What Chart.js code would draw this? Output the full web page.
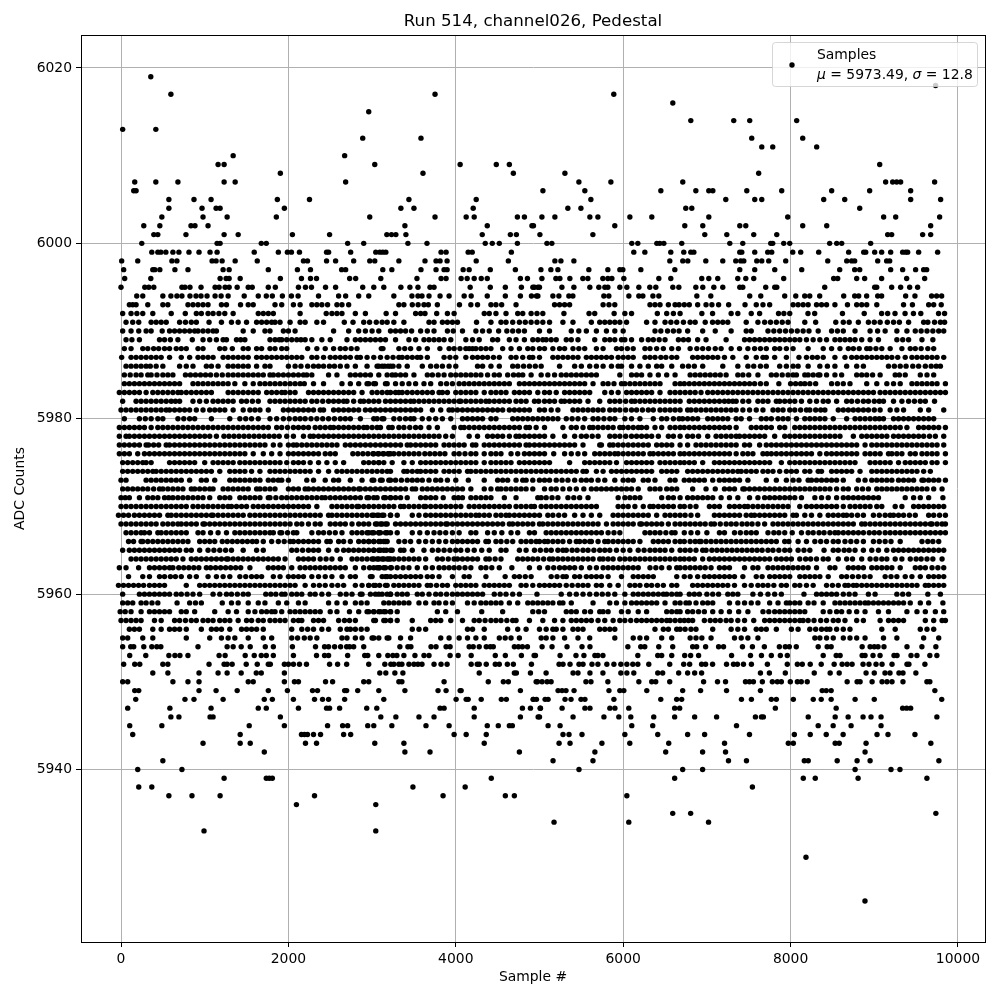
<!DOCTYPE html>
<html>
<head>
<meta charset="utf-8">
<title>Run 514, channel026, Pedestal</title>
<script src="https://cdn.jsdelivr.net/npm/chart.js@4/dist/chart.umd.min.js"></script>
<style>
  html, body { margin: 0; padding: 0; background: #fff; }
  canvas { display: block; }
</style>
</head>
<body>
<canvas id="chart" width="1000" height="1000"></canvas>
<script>
const chartTitle = 'Run 514, channel026, Pedestal';
const xLabel = 'Sample #';
const yLabel = 'ADC Counts';
const seriesName = 'Samples';
const xTicks = [0, 2000, 4000, 6000, 8000, 10000];
const yTicks = [5940, 5960, 5980, 6000, 6020];
const mu = '5973.49';
const sigma = '12.8';

// ADC counts are integers, so the samples are listed one row per count
const upperLevels = [6019,6018,6017,6016,6015,6014,6013,6012,6011,6010,6009,6008,6007,6006,6005,6004,6003,6002,6001,6000,5999,5998,5997,5996,5995,5994];
const upperRows = [
[356],
[9733],
[596,3752,5888],
[6593],
[2960],
[6808,7321,7512,8073],
[20,416],
[2888,3584,7536,8145],
[7656,7787,8312],
[1340,2672],
[1160,1232,3032,4052,4484,4640,9065],
[1904,3608,4688,5304,7619],
[164,416,680,1232,1364,2684,5471,5853,6712,9136,9220,9268,9315,9721],
[152,180,5041,5542,6450,6868,7023,7071,7477,7894,8491,8945,9435],
[572,872,1076,1868,2252,3440,4244,5614,7226,7572,7656,8396,8647,9435,9793],
[572,968,1136,1184,1952,3344,3500,4208,5339,5495,6748,6820,8826],
[488,980,1268,1856,2972,3752,4124,4220,4736,4820,5029,5184,5602,5698,6080,6342,7023,7966,9112,9256,9781],
[272,464,836,884,1040,3392,4376,4910,4928,5900,6736,6951,7393,7465,8145,8432,9674],
[392,440,776,1232,1400,2048,2492,3176,3232,3284,3404,4316,4652,4724,5005,5638,6975,7238,7560,7835,9160,9208,9578,9674],
[248,1148,1184,1676,1736,2708,2900,3428,3656,4352,4436,4520,4736,5089,5148,6103,6175,6402,6438,6486,6700,7274,7429,7763,7787,7918,7990,8467,8551,8611,8957],
[368,440,476,536,620,692,812,932,1064,1148,1592,1880,1988,2036,2132,2456,2480,2744,3044,3092,3128,3164,3824,3884,4148,4196,4664,6127,6259,6569,6724,6808,6844,7393,7417,7572,7727,7775,8026,8121,8336,8694,8874,8898,9005,9088,9196,9339,9375,9399,9530,9757],
[8,200,608,668,1088,1136,1208,1364,1628,2180,2228,2456,2564,2780,2972,3032,3320,3632,3764,3812,3896,4244,4628,5184,5256,5411,6557,6712,6772,6987,7190,7345,7405,7441,7596,7656,7739,7942,8444,8671,8730,8766,9041,9148,9184],
[32,380,404,464,644,800,1220,1292,1760,2108,2264,2636,2684,3128,3236,3584,3764,3860,3896,4088,4160,4412,4712,5017,5136,5220,5590,5817,5960,5996,6211,6617,7393,7572,7811,8133,8587,8766,8826,9196,9339,9494,9590,9626],
[44,356,1184,1256,1292,1424,1904,2156,2264,2336,2732,2804,3104,3536,3824,3884,4064,4136,4220,4304,4376,4772,4856,5029,5196,5244,5363,5518,5578,5757,5817,5865,6008,6426,6569,6939,7023,7130,7369,7465,7560,7918,8515,8563,8790,8885,9088,9387,9602],
[0,284,332,392,728,764,824,956,1124,1172,1244,1292,1388,1520,1568,1760,1844,2120,2204,2276,2444,2564,2888,3020,3140,3344,3452,3548,3692,3740,4172,4412,4592,4784,4921,4940,4981,5000,5268,5411,5602,5709,5781,5817,5960,6044,6187,6318,6390,6593,6665,6868,6951,7083,7190,7393,7429,7703,7811,7835,8408,9005,9029,9208,9315,9423,9518],
[188,260,500,596,668,728,824,896,956,1028,1124,1196,1280,1472,1640,1736,1808,1928,2036,2116,2360,2600,2684,2840,2960,3260,3476,3548,3596,3680,3812,3920,4100,4184,4376,4592,4772,4904,4964,4981,5160,5232,5351,5399,5769,5829,6068,6187,6235,6355,6426,6880,7047,7512,7644,7930,8062,8169,8229,8348,8635,8766,8814,8909,9041,9088,9375,9486,9685,9745,9805]
];

const coreLevels = [5993,5992,5991,5990,5989,5988,5987,5986,5985,5984,5983,5982,5981,5980,5979,5978,5977,5976,5975,5974,5973,5972,5971,5970,5969,5968,5967,5966,5965,5964,5963,5962,5961,5960,5959,5958,5957,5956,5955];
const coreRows = [
/*5993*/ [100,140,180,320,500,560,800,860,920,980,1040,1200,1260,1428,1520,1580,1840,1920,2060,2140,2280,2340,2400,2468,2580,2640,2720,3320,3380,3480,3550,3620,3672,3780,4044,4180,4260,4420,4480,4548,4720,5180,5240,5300,5360,5760,5830,5900,6320,6380,6440,6540,6620,6668,6730,6790,6890,6990,7060,7140,7260,7456,7590,7670,7750,8030,8090,8150,8210,8310,8370,8430,8530,8680,8790,8850,8910,9030,9350,9456,9650,9710,9800],
/*5992*/ [20,120,190,260,380,600,768,900,960,1040,1100,1170,1240,1340,1640,1700,1760,1820,2140,2452,2520,2580,2640,2800,2920,3168,3280,3520,3580,3632,3772,3900,3980,4340,4400,4480,4600,4740,4800,4900,4970,5040,5292,5592,5660,5892,6020,6100,6408,6520,6600,6680,6940,7068,7290,7370,7530,7630,7856,7920,7990,8208,8288,8620,8880,9088,9160,9248,9368,9468,9556,9768,9840],
/*5991*/ [60,140,212,360,420,480,540,700,770,840,900,1052,1200,1320,1400,1500,1620,1680,1740,1800,1840,1900,2020,2140,2200,2340,2420,2668,2772,2900,2970,3050,3120,3180,3260,3380,3680,3740,3840,3900,3960,4020,4248,4420,4540,4600,4680,4760,4830,4900,4970,5040,5120,5280,5400,5620,5720,5780,5840,5900,5960,6040,6280,6380,6500,6570,6640,6720,6800,6860,6980,7068,7130,7190,7250,7470,7610,7690,7760,7830,7900,7970,8170,8300,8540,8630,8700,8810,8930,9000,9070,9156,9230,9300,9410,9590,9640,9720,9790,9840],
/*5990*/ [20,120,212,300,360,492,580,640,700,760,820,880,920,980,1040,1100,1140,1460,1580,1720,1780,1940,2000,2080,2540,2720,2840,2920,3000,3080,3220,3280,3340,3400,3472,3580,3660,3740,3900,3970,4080,4240,4320,4400,4512,4610,4680,4750,4820,5000,5120,5380,5470,5560,5680,5800,5900,6000,6380,6450,6530,6600,6668,6770,6950,7100,7290,7470,7530,7730,7800,7870,7940,8010,8080,8150,8220,8330,8490,8560,8630,8770,8950,9040,9130,9270,9390,9490,9560,9630,9700,9770,9830],
/*5989*/ [60,130,220,460,520,590,680,852,980,1060,1140,1220,1260,1380,1430,1480,1780,1840,1890,1920,1980,2040,2100,2150,2200,2280,2400,2500,2700,2800,2860,2920,2980,3040,3100,3160,3280,3440,3520,3620,3680,3740,3800,3860,3940,4120,4200,4280,4440,4500,4640,4720,4820,4920,4980,5040,5080,5140,5200,5320,5380,5460,5660,5780,5840,5900,5980,6020,6100,6220,6300,6360,6430,6500,6660,6720,6780,6890,6990,7230,7450,7510,7570,7630,7690,7750,7810,7870,7930,7990,8050,8110,8190,8270,8350,8430,8530,8590,8650,8710,8770,8850,8950,9050,9270,9340,9410,9570,9700],
/*5988*/ [40,120,260,320,390,450,520,580,660,720,780,920,980,1180,1240,1330,1460,1520,1620,1680,1780,1840,1920,1980,2230,2340,2440,2540,2620,2680,2750,2820,3110,3130,3320,3390,3460,3560,3660,3810,3920,3980,4050,4120,4160,4200,4240,4300,4360,4420,4560,4660,4760,4860,4920,5000,5060,5160,5240,5300,5400,5470,5540,5680,5760,5920,5980,6050,6120,6260,6320,6400,6480,6580,6660,6800,6880,6950,7020,7100,7170,7290,7390,7490,7570,7640,7710,7810,7870,7950,8030,8210,8390,8490,8590,8690,8750,8820,8910,8950,9020,9090,9190,9330,9430,9490,9560,9640,9710],
/*5987*/ [8,120,180,240,300,360,420,480,580,720,820,920,980,1040,1100,1220,1280,1340,1400,1460,1520,1620,1680,1740,1800,1860,1920,1980,2040,2100,2160,2280,2340,2420,2500,2560,2620,2680,2740,2820,2860,2940,3020,3100,3180,3250,3320,3360,3420,3480,3540,3580,3660,3860,3930,4000,4120,4200,4260,4320,4380,4450,4520,4660,4720,4800,4880,4920,5000,5160,5220,5280,5340,5400,5460,5560,5620,5680,5740,5800,5860,5940,6000,6060,6120,6260,6320,6380,6450,6510,6580,6640,6830,6890,6950,7010,7070,7130,7210,7310,7470,7590,7670,7710,7810,7950,8100,8190,8260,8320,8390,8530,8650,8730,8790,8850,8910,8970,9030,9090,9150,9210,9280,9370,9450,9510,9570,9630,9690,9750,9830],
/*5986*/ [60,120,180,240,300,350,420,500,700,780,860,1020,1080,1160,1280,1340,1400,1460,1520,1620,1720,1780,2000,2080,2150,2230,2300,2360,2420,2490,2550,2620,2700,2800,2940,3080,3150,3220,3060,3120,3190,3250,3320,3420,3600,3700,3770,3840,3920,4000,4260,4320,4420,4520,4680,4740,4810,4880,4950,5020,5240,5420,5500,5600,5680,5760,5860,5940,5980,6100,6200,6300,6400,6460,6580,6710,6780,6850,6950,7190,7370,7490,7560,7640,7710,7870,7950,8030,8090,8210,8350,8440,8530,8670,8790,8870,9170,9240,9310,9380,9460,9530,9610,9680,9740,9790],
/*5985*/ [40,110,180,240,320,360,430,500,560,620,770,830,890,950,1010,1070,1140,1210,1280,1340,1400,1460,1520,1580,1640,1700,1780,1820,1880,1940,2000,2060,2120,2180,2220,2280,2480,2580,2740,2800,2860,2920,2980,3080,3180,3240,3280,3340,3400,3500,3660,3720,3790,3860,3940,4000,4060,4120,4180,4240,4300,4380,4460,4520,4620,4690,4750,4800,4900,5020,5100,5180,5260,5320,5380,5440,5500,5560,5620,5680,5960,6100,6160,6220,6320,6420,6520,6620,6800,6860,6920,6980,7040,7100,7160,7230,7370,7430,7500,7610,7770,7830,7900,7970,8030,8070,8170,8210,8270,8330,8350,8430,8530,8610,8790,8850,8910,8980,9070,9250,9300,9370,9550,9630,9710],
/*5984*/ [40,100,160,220,280,340,400,460,520,580,640,700,860,920,980,1040,1100,1160,1220,1280,1360,1480,1580,1660,1720,1780,1840,1900,1960,2020,2080,2140,2190,2300,2420,2640,2740,2840,2940,3040,3180,2960,3020,3160,3280,3360,3440,3520,3620,3700,3820,3890,3960,4040,4100,4160,4220,4280,4340,4400,4460,4520,4580,4640,4760,4820,4880,4940,5000,5060,5120,5180,5240,5300,5360,5420,5480,5540,5640,5760,5820,5890,5980,6020,6080,6140,6200,6260,6320,6380,6440,6620,6680,6730,6790,6850,6910,6970,7030,7090,7150,7210,7270,7330,7390,7450,7510,7570,7640,7710,7860,8000,8060,8120,8170,8230,8300,8490,8560,8630,8710,8910,9030,9150,9230,9310,9450,9510,9570,9630,9690,9750,9850],
/*5983*/ [-20,40,100,160,220,300,380,440,500,560,620,680,720,780,840,900,960,1020,1080,1280,1340,1400,1460,1520,1580,1640,1740,1800,1860,1920,1960,2020,2080,2240,2300,2360,2420,2480,2540,2600,2660,2720,2780,2880,3000,3060,3120,3180,3220,3280,3320,3360,3420,3480,3540,3600,3660,3720,3800,3840,3900,4000,4060,4120,4180,4240,4340,4420,4480,4540,4600,4700,4760,4820,4880,4980,5060,5120,5200,5300,5360,5420,5480,5540,5600,5780,5860,5940,6040,6100,6160,6220,6280,6340,6440,6560,6620,6680,6740,6800,6860,6930,7010,7070,7130,7190,7250,7310,7370,7430,7490,7550,7610,7670,7730,7790,7850,7910,7970,8030,8090,8150,8210,8270,8330,8390,8450,8510,8570,8630,8690,8750,8810,8870,8930,8990,9070,9130,9190,9250,9310,9370,9430,9490,9550,9610,9670,9730,9790,9850],
/*5982*/ [20,180,240,300,360,420,480,540,600,650,700,860,940,1020,1100,1160,1220,1280,1340,1440,1500,1570,1640,1780,1840,1900,1960,2020,2080,2140,2200,2280,2340,2410,2480,2540,2600,2660,2700,2780,2860,2900,2960,3020,3080,3160,3220,3280,3340,3400,3460,3500,3560,3620,3680,3740,3800,3860,3920,3980,4040,4060,4120,4180,4240,4300,4360,4400,4460,4520,4580,4640,4720,4780,4840,4940,4990,5060,5120,5180,5260,5300,5360,5420,5480,5580,5720,5840,5900,5960,6030,6100,6140,6200,6260,6320,6380,6440,6500,6560,6620,6680,6790,6850,6910,6970,7030,7090,7150,7210,7260,7310,7350,7430,7500,7610,7670,7730,7830,7870,7930,7990,8050,8130,8230,8310,8390,8450,8550,8670,8730,8800,8870,8930,9000,9060,9110,9230,9330,9410,9480,9550,9610,9720],
/*5981*/ [0,60,120,180,240,300,360,420,480,540,580,640,700,760,820,900,980,1060,1120,1180,1240,1340,1460,1540,1600,1660,1760,1940,2000,2060,2120,2180,2240,2300,2380,2420,2540,2600,2660,2720,2780,2840,2920,2980,3040,3100,3160,3220,3280,3340,3400,3460,3520,3580,3720,3820,3920,3960,4020,4080,4140,4200,4260,4320,4380,4440,4500,4560,4640,4700,4760,4820,4880,5000,5060,5140,5220,5400,5460,5520,5580,5640,5700,5760,5840,5900,5960,6030,6100,6160,6230,6300,6360,6440,6500,6560,6620,6680,6770,6810,6870,6930,6990,7050,7110,7170,7230,7290,7350,7430,7510,7590,7670,7790,7850,7910,7990,8050,8120,8190,8230,8300,8360,8410,8570,8630,8690,8750,8810,8870,8930,9000,9070,9190,9270,9350,9550,9650,9830],
/*5980*/ [40,220,290,360,440,500,680,750,820,880,1080,1300,1420,1490,1560,1640,1780,1860,1940,2010,2080,2140,2200,2270,2340,2410,2480,2550,2620,2680,2740,2860,3060,3140,3020,3120,3260,3330,3400,3460,3500,3600,3680,3760,3840,3940,4080,4140,4200,4260,4320,4420,4480,4680,4740,4800,4860,4920,4980,5040,5100,5160,5220,5320,5390,5460,5540,5640,5700,5770,5840,5900,6020,6100,6200,6360,6460,6520,6600,6668,6710,6770,6830,6890,7010,7070,7130,7190,7250,7350,7410,7510,7650,7710,7770,7850,7910,7970,8070,8170,8230,8290,8350,8410,8510,8670,8770,8830,8890,8950,9010,9060,9110,9230,9290,9350,9410,9470,9530,9590,9650,9710],
/*5979*/ [-20,40,100,160,220,280,360,440,500,560,620,680,740,800,860,920,980,1040,1100,1160,1220,1280,1340,1400,1460,1520,1580,1640,1700,1760,1860,1920,1990,2060,2120,2180,2240,2320,2380,2440,2500,2540,2600,2660,2720,2780,2840,2900,2940,3000,3060,3100,3200,3240,3320,3380,3450,3520,3580,3680,3780,3980,4060,4100,4160,4220,4280,4340,4400,4460,4520,4580,4640,4700,4760,4840,4880,4960,5060,5280,5380,5440,5520,5600,5640,5700,5760,5820,5880,5960,6000,6060,6120,6180,6220,6280,6380,6460,6560,6620,6680,6730,6790,6850,6910,6970,7030,7090,7150,7210,7270,7350,7530,7590,7650,7710,7770,7870,7930,8050,8110,8170,8230,8290,8350,8410,8470,8530,8590,8650,8710,8770,8830,8890,8950,9010,9070,9130,9190,9250,9310,9390,9530,9590,9650,9710,9770,9850],
/*5978*/ [-20,60,100,160,220,280,340,400,460,520,580,640,700,760,820,880,940,1000,1060,1140,1230,1290,1350,1410,1470,1530,1590,1650,1710,1770,1830,1890,1980,2060,2180,2260,2300,2360,2420,2480,2540,2600,2660,2720,2780,2840,2900,2960,3020,3080,3140,3200,3260,3320,3380,3440,3500,3560,3620,3680,3740,3800,3880,3960,4160,4260,4380,4440,4500,4560,4640,4720,4760,4820,4880,4940,5000,5060,5160,5300,5420,5500,5560,5630,5700,5840,5900,5960,6030,6100,6160,6220,6280,6340,6420,6540,6600,6680,6770,6830,6900,7010,7110,7170,7230,7290,7350,7390,7450,7510,7570,7630,7690,7810,7930,7990,8050,8110,8170,8230,8290,8350,8410,8470,8530,8590,8750,8850,8910,8970,9030,9090,9150,9230,9290,9350,9410,9470,9530,9590,9660,9730,9830],
/*5977*/ [-20,40,100,160,220,300,330,390,450,540,580,640,700,760,820,880,940,1000,1060,1120,1180,1240,1300,1360,1420,1480,1540,1600,1660,1720,1820,1900,2000,2060,2100,2160,2220,2280,2340,2400,2460,2520,2580,2680,2740,2800,2860,2920,2980,3040,3100,3160,3220,3280,3340,3420,3460,3520,3580,3640,3700,3760,3860,3920,3980,4040,4100,4200,4240,4340,4400,4460,4520,4580,4640,4700,4760,4840,4880,4940,5000,5060,5120,5180,5240,5300,5360,5420,5520,5720,5740,5840,5880,5940,6000,6060,6120,6180,6240,6300,6400,6460,6520,6580,6680,6770,6870,6930,6990,7050,7110,7170,7230,7290,7350,7450,7510,7630,7710,7770,7830,7890,7950,8010,8070,8130,8190,8250,8310,8370,8430,8490,8550,8610,8670,8730,8790,8890,8970,9030,9090,9150,9210,9270,9330,9390,9450,9510,9570,9630,9690,9750,9830],
/*5976*/ [-20,40,100,200,280,340,400,460,520,580,640,700,760,820,880,940,1000,1060,1120,1180,1240,1300,1360,1420,1480,1580,1700,1800,1900,2000,2060,2120,2180,2240,2300,2360,2440,2500,2560,2770,2830,2890,2950,3010,3070,3130,3190,3220,3020,3080,3140,3200,3260,3320,3380,3440,3500,3560,3630,3690,3750,3810,3870,3980,4040,4110,4180,4240,4340,4420,4480,4540,4660,4740,4820,4880,4940,5000,5060,5170,5300,5380,5460,5540,5660,5720,5780,5840,5900,5940,6000,6060,6120,6180,6240,6320,6360,6420,6480,6540,6600,6680,6730,6790,6850,6910,6970,7030,7090,7150,7210,7270,7350,7430,7490,7550,7670,7720,7770,7830,7890,7950,8010,8070,8130,8190,8250,8350,8430,8490,8550,8610,8670,8730,8790,8890,8950,9010,9070,9170,9210,9270,9330,9430,9490,9570,9630,9690,9750,9850],
/*5975*/ [20,80,140,200,260,300,360,580,640,700,760,820,880,1000,1100,1160,1220,1280,1340,1420,1480,1540,1600,1660,1720,1780,1840,1900,1980,2060,2120,2180,2260,2360,2460,2560,2660,2900,2960,3020,3080,3140,3240,3080,3380,3480,3580,3640,3700,3760,3820,3880,3940,4000,4060,4120,4180,4240,4340,4420,4480,4540,4600,4660,4760,4820,4880,4940,5000,5060,5120,5360,5540,5600,5660,5720,5780,5840,5920,6040,6100,6160,6220,6280,6340,6440,6500,6560,6620,6680,6730,6790,6850,6950,7090,7150,7210,7270,7330,7390,7450,7510,7570,7630,7690,7750,7890,7990,8050,8110,8170,8230,8290,8350,8410,8470,8530,8590,8650,8710,8770,8950,9010,9070,9130,9190,9290,9370,9430,9490,9550,9610,9690,9750,9850],
/*5974*/ [20,80,140,200,260,320,380,420,480,540,600,660,720,780,840,900,960,1020,1080,1180,1300,1360,1420,1480,1560,1660,1780,1840,1900,1960,2020,2080,2140,2200,2260,2360,2480,2580,2640,2700,2760,2820,2880,2940,3000,3060,3120,3180,3220,3420,3380,3480,3540,3580,3640,3700,3760,3860,3920,3980,4040,4140,4180,4240,4300,4360,4420,4480,4540,4600,4660,4720,4780,4840,4900,4960,5020,5080,5140,5200,5260,5320,5380,5440,5520,5560,5680,5760,5860,5920,5980,6040,6100,6160,6220,6280,6340,6460,6520,6580,6640,6770,6830,6890,6950,7010,7070,7130,7190,7250,7310,7370,7410,7470,7530,7590,7670,7730,7790,7870,7950,8010,8070,8170,8230,8330,8370,8490,8550,8610,8670,8730,8830,8970,9030,9090,9150,9210,9270,9330,9390,9450,9510,9590,9670],
/*5973*/ [0,60,300,360,420,480,540,600,660,720,820,960,1020,1120,1300,1360,1420,1480,1540,1600,1660,1760,1820,1880,1920,2000,2220,2300,2440,2540,2600,2740,2880,3000,3120,3220,3020,3100,3200,3280,3350,3420,3480,3540,3600,3680,3760,3820,3900,4000,4150,4340,4500,4560,4620,4720,4800,4840,4920,5000,5060,5120,5200,5270,5340,5420,5500,5560,5620,5700,5780,5900,6000,6060,6120,6240,6300,6380,6560,6620,6730,6790,6850,6910,6970,7070,7150,7210,7270,7330,7390,7490,7710,7830,7950,8030,8100,8210,8250,8310,8370,8430,8490,8550,8630,8810,8890,8970,9030,9090,9150,9210,9290,9350,9410,9470,9570,9590,9650,9710,9770,9850],
/*5972*/ [20,80,140,200,260,320,390,460,500,560,620,680,740,840,880,940,1000,1060,1100,1220,1280,1340,1400,1460,1520,1620,1660,1720,1780,1840,2000,2060,2120,2200,2240,2300,2360,2420,2480,2540,2600,2660,2720,2780,2840,2860,2920,2980,3040,3100,3160,3220,3280,3340,3400,3480,3520,3600,3660,3720,3780,3840,3900,3960,4020,4080,4180,4340,4420,4500,4540,4600,4660,4720,4780,4840,4920,5060,5140,5200,5280,5360,5440,5530,5620,5680,5740,5800,5860,5920,5980,6040,6100,6180,6320,6380,6440,6520,6580,6640,6830,6990,7100,7210,7270,7330,7430,7450,7510,7570,7630,7690,7750,7810,7870,7930,7990,8050,8110,8170,8230,8290,8350,8410,8470,8550,8630,8690,8790,8860,8930,9030,9090,9150,9210,9270,9330,9390,9450,9510,9570,9630,9710,9810],
/*5971*/ [0,50,100,220,320,380,440,520,570,620,680,740,800,860,920,980,1060,1180,1240,1300,1420,1480,1540,1600,1660,1760,1780,1850,1920,1980,2040,2100,2160,2220,2280,2340,2400,2440,2500,2560,2620,2680,2740,2800,2860,2940,3060,3160,3220,2960,3020,3140,3220,3280,3340,3420,3580,3640,3700,3760,3850,3980,4030,4080,4180,4240,4300,4360,4420,4580,4720,4980,5020,5080,5150,5220,5340,5410,5480,5580,5940,6020,6080,6140,6200,6460,6540,6600,6680,6770,6830,6890,6950,7010,7070,7170,7270,7370,7510,7610,7690,7750,7810,7870,7930,7990,8050,8130,8290,8370,8450,8550,8630,8690,8750,8810,8870,8930,8990,9050,9370,9470,9550,9650,9820],
/*5970*/ [0,60,120,180,240,300,360,420,480,540,600,660,720,780,860,920,980,1040,1100,1160,1220,1280,1320,1380,1440,1500,1580,1640,1700,1760,1820,1880,1940,2000,2060,2120,2180,2240,2340,2520,2580,2640,2700,2760,2820,2840,2900,2960,3020,3080,3140,3200,3260,3340,3380,3440,3500,3560,3620,3640,3700,3760,3820,3880,3940,4000,4060,4160,4220,4280,4340,4400,4460,4520,4580,4640,4720,4780,4840,4900,4940,5020,5080,5140,5200,5260,5320,5380,5440,5500,5560,5620,5680,5940,6000,6060,6140,6240,6320,6360,6420,6480,6540,6600,6680,6730,6800,6870,7030,7090,7150,7270,7330,7390,7450,7490,7550,7610,7670,7730,7790,7850,7910,7970,8110,8190,8250,8310,8370,8430,8490,8550,8630,8710,8770,8830,8890,8950,9030,9090,9250,9330,9470,9530,9590,9650,9710,9770,9830],
/*5969*/ [-30,30,90,160,220,280,340,400,460,560,600,660,720,780,840,900,960,1020,1080,1100,1160,1220,1280,1340,1400,1460,1540,1600,1660,1720,1780,1840,1900,1960,2020,2080,2140,2200,2260,2320,2380,2480,2520,2580,2640,2700,2760,2820,2880,2940,3000,3060,3120,3220,3020,3080,3140,3220,3300,3480,3560,3640,3700,3760,3820,3880,3940,4000,4060,4120,4180,4240,4280,4340,4400,4480,4540,4600,4640,4700,4760,4820,4880,4940,5000,5100,5160,5230,5300,5420,5520,5620,5720,5880,5940,6000,6060,6120,6180,6240,6300,6400,6500,6560,6620,6680,6740,6810,6890,7090,7150,7210,7270,7330,7390,7470,7530,7570,7630,7690,7750,7810,7870,7930,8030,8070,8170,8250,8350,8450,8510,8570,8630,8670,8730,8800,8870,8990,9060,9130,9190,9230,9290,9350,9420,9490,9650,9710,9780,9850],
/*5968*/ [0,60,120,180,240,300,360,420,500,560,620,680,720,780,840,900,980,1000,1060,1120,1180,1240,1300,1360,1420,1480,1540,1600,1660,1720,1780,1840,1900,1960,2020,2100,2160,2240,2320,2380,2500,2560,2620,2680,2760,2840,2900,2960,3060,3120,3180,3040,3100,3160,3280,3340,3400,3460,3520,3580,3640,3700,3760,3820,3880,3900,3960,4020,4080,4140,4200,4260,4320,4380,4440,4500,4560,4640,4680,4740,4800,4860,4920,5000,5040,5100,5160,5220,5280,5340,5400,5460,5520,5580,5640,5700,5800,5880,5940,6000,6060,6120,6200,6220,6280,6340,6400,6460,6540,6620,6680,6740,6800,6860,6920,6980,7050,7090,7160,7230,7290,7350,7420,7480,7540,7610,7690,7790,7850,7910,7970,8030,8090,8150,8210,8270,8330,8390,8450,8510,8570,8630,8690,8750,8850,8890,8950,9010,9070,9130,9190,9250,9310,9370,9430,9490,9550,9610,9670,9690,9750,9810,9850],
/*5967*/ [60,120,180,240,280,340,440,480,540,600,660,720,780,920,980,1070,1160,1260,1360,1420,1480,1540,1600,1660,1720,1780,1820,1900,1920,1990,2060,2100,2280,2360,2420,2490,2560,2640,2760,2820,2880,2940,3000,3080,3100,3160,3220,2960,3020,3080,3180,3300,3480,3570,3660,3740,3810,3880,3960,4040,4180,4240,4380,4460,4550,4660,4740,4880,4940,5080,5140,5200,5260,5320,5380,5440,5500,5560,5620,5680,5740,5820,5890,5960,6260,6320,6380,6440,6510,6580,6620,6730,6810,6890,7000,7150,7210,7330,7400,7470,7530,7590,7730,7800,7860,7930,8020,8130,8210,8270,8340,8400,8470,8530,8570,8630,8690,8750,8810,8870,8940,9000,9060,9130,9190,9250,9310,9370,9430,9490,9550,9610,9670,9730,9790,9850],
/*5966*/ [90,150,240,260,320,380,440,500,560,620,680,740,800,940,1000,1060,1120,1210,1270,1330,1390,1450,1510,1570,1620,1700,1800,1880,1950,2020,2060,2120,2180,2240,2300,2360,2460,2500,2600,2660,2740,2840,2900,2960,3020,3080,3140,3180,2960,3020,3100,3160,3320,3390,3460,3560,3640,3720,3800,3880,3960,4020,4080,4140,4200,4260,4360,4390,4480,4540,4610,4680,4780,4840,4900,4960,5000,5060,5100,5160,5220,5280,5360,5440,5480,5540,5600,5620,5700,5780,5820,5880,5940,6000,6060,6120,6200,6360,6420,6480,6540,6620,6680,6730,6800,6860,6910,6930,6990,7050,7110,7170,7230,7290,7350,7410,7470,7530,7590,7650,7710,7770,7830,7930,7980,8090,8190,8290,8360,8430,8510,8570,8650,8720,8790,8870,8990,9060,9130,9200,9310,9570,9640,9700,9770],
/*5965*/ [20,100,160,220,280,340,400,460,520,580,640,700,780,840,940,1040,1110,1180,1250,1320,1460,1620,1700,2040,2100,2170,2240,2300,2360,2480,2580,2660,2720,2780,2840,2900,2960,3020,3080,3140,3220,3020,3100,3170,3240,3340,3380,3480,3620,3720,3790,3860,3930,4000,4060,4140,4220,4310,4400,4540,4600,4760,4840,4940,5010,5080,5140,5220,5280,5320,5390,5450,5520,5580,5650,5720,5780,5840,5920,6000,6080,6180,6250,6320,6380,6440,6500,6580,6680,6740,6800,6870,6950,6990,7060,7120,7180,7240,7300,7360,7420,7480,7540,7600,7660,7730,7790,7860,7930,7990,8090,8160,8230,8400,8510,8570,8640,8700,8770,8870,8970,9050,9150,9230,9290,9350,9410,9470,9530,9590,9650,9710,9770,9830],
/*5964*/ [120,180,240,300,360,420,480,540,600,660,740,840,900,960,1020,1080,1140,1200,1260,1280,1340,1400,1460,1520,1580,1640,1700,1760,1820,1880,1960,2120,2180,2240,2300,2380,2450,2520,2620,2760,2820,2880,2940,3000,3060,3120,3180,3220,3020,3080,3140,3200,3260,3320,3380,3440,3500,3560,3640,3780,3840,3910,3980,4020,4080,4140,4200,4260,4360,4400,4470,4540,4740,4800,4860,4920,4980,5050,5120,5160,5220,5280,5340,5400,5460,5520,5580,5640,5720,5760,5820,5880,5960,6020,6080,6140,6200,6260,6320,6380,6440,6500,6560,6620,6680,6730,6790,6850,6950,7030,7090,7150,7210,7270,7330,7390,7450,7510,7570,7630,7690,7750,7830,7890,7950,8010,8110,8180,8240,8310,8390,8450,8570,8670,8740,8850,8950,9020,9090,9150,9250,9330,9430,9500,9560,9630,9700,9810],
/*5963*/ [-20,60,210,340,400,460,520,580,620,690,750,810,870,930,1020,1070,1130,1190,1250,1310,1370,1430,1540,1760,1820,1880,1940,2040,2140,2200,2260,2320,2380,2440,2500,2560,2620,2680,2800,2900,2970,3060,3080,3140,3220,3020,3090,3160,3230,3300,3370,3440,3540,3640,3720,3800,3860,3920,3980,4040,4110,4180,4300,4360,4430,4520,4670,4880,5000,5100,5170,5240,5300,5360,5420,5500,5600,5680,5760,5820,5880,5940,6000,6060,6120,6180,6320,6390,6460,6550,6640,6680,6740,6800,6860,6920,6980,7050,7150,7210,7270,7450,7550,7610,7730,7790,7850,7910,7970,8030,8090,8150,8210,8310,8470,8530,8690,8750,8810,8870,8970,9030,9090,9150,9210,9310,9490,9550,9610,9690,9760,9830],
/*5962*/ [90,260,340,460,520,590,650,720,820,900,1040,1140,1220,1300,1420,1490,1560,1620,1680,1820,1900,2000,2060,2120,2180,2280,2360,2440,2520,2640,2740,2800,3000,3160,3220,2980,3120,3180,3280,3340,3400,3460,3520,3580,3660,3720,3800,3960,4100,4160,4360,4590,4700,4760,4830,4900,5140,5210,5280,5320,5420,5480,5560,5620,5680,5740,5820,5980,6120,6180,6240,6300,6360,6640,6730,6800,6890,6970,7030,7090,7150,7210,7270,7330,7430,7590,7660,7750,7810,7870,7930,7990,8110,8170,8230,8290,8350,8450,8610,8670,8740,8810,8880,8950,9130,9200,9270,9370,9450,9550,9650,9710,9770,9830],
/*5961*/ [-30,30,90,150,210,270,340,400,460,520,780,940,1000,1060,1120,1180,1240,1300,1360,1420,1480,1540,1600,1660,1720,1780,1840,1900,1960,2020,2080,2200,2300,2370,2440,2520,2590,2660,2800,2880,2960,3020,3090,3180,2960,3040,3160,3260,3320,3380,3440,3500,3560,3660,3700,3770,3840,3900,4000,4060,4120,4180,4240,4340,4400,4460,4520,4580,4640,4780,4840,4920,5000,5060,5120,5180,5240,5320,5390,5460,5520,5580,5680,5740,5840,5940,6080,6140,6200,6280,6340,6410,6480,6580,6640,6830,6890,6950,7010,7070,7130,7190,7250,7330,7450,7530,7610,7670,7730,7800,7890,7950,8050,8110,8190,8270,8430,8500,8570,8650,8690,8750,8790,8850,8910,8970,9030,9090,9150,9210,9270,9330,9390,9450,9510,9610,9650,9710,9770,9830],
/*5960*/ [20,220,280,340,400,460,520,580,660,720,790,860,940,1100,1180,1260,1320,1390,1460,1520,1730,1790,1850,1920,1960,2040,2100,2160,2260,2320,2400,2480,2620,2690,2760,2860,2880,2980,3080,3180,3220,3040,3120,3220,3300,3360,3420,3540,3600,3680,3760,3820,3890,3960,4020,4080,4140,4200,4260,4320,4460,4530,4600,4680,4760,4970,5260,5360,5440,5520,5600,5680,5750,5820,5900,6020,6120,6180,6240,6300,6360,6420,6480,6520,6580,6640,6680,6790,6850,6910,7000,7070,7140,7250,7310,7370,7550,7640,7730,7810,7890,8160,8310,8370,8430,8490,8550,8630,8700,8770,8930,9010,9270,9340,9410,9640,9790],
/*5959*/ [20,80,140,240,300,370,440,670,820,890,960,1210,1320,1400,1520,1640,1720,1880,1980,2120,2200,2480,2580,2680,2800,2870,2940,3140,3200,3260,3320,3380,3440,3560,3640,3740,3800,3880,3960,4140,4220,4300,4360,4420,4480,4540,4640,4740,4860,4920,4980,5040,5100,5160,5240,5280,5380,5640,5840,5920,6020,6100,6160,6220,6280,6340,6400,6500,6620,6680,6750,6790,6870,6950,7010,7070,7270,7370,7450,7530,7610,7750,7850,7950,7990,8050,8110,8210,8280,8390,8530,8590,8650,8710,8770,8830,8890,8930,8990,9050,9110,9170,9230,9290,9350,9430,9550,9650,9820],
/*5958*/ [-10,50,120,240,340,400,460,520,580,720,780,880,1120,1280,1380,1520,1600,1680,1740,1800,1840,1920,2020,2080,2140,2200,2260,2320,2380,2500,2580,2730,2840,2940,3020,3100,3160,3220,2960,3020,3080,3140,3220,3300,3780,3880,4020,4310,4560,4920,4990,5060,5320,5380,5440,5540,5610,5720,5760,5820,5980,6060,6180,6280,6520,6580,6640,6680,6770,6830,6900,6970,7070,7170,7270,7380,7490,7670,7740,7810,7870,7930,7990,8050,8110,8170,8390,8470,8550,8610,8700,8790,8890,9050,9170,9390,9510,9610,9730,9830],
/*5957*/ [0,60,120,180,240,400,480,640,700,770,840,900,980,1040,1100,1180,1240,1300,1400,1500,1560,1640,1700,1780,1840,1900,1960,2060,2120,2160,2300,2360,2420,2600,2670,2730,2800,3040,3160,3220,3020,3140,3220,3300,3480,3700,3760,3820,3940,4080,4220,4280,4350,4420,4480,4540,4610,4680,4720,4880,5040,5180,5280,5380,5440,5500,5560,5620,5700,5780,5880,5960,6020,6090,6160,6220,6280,6340,6400,6460,6520,6560,6620,6680,6730,6780,6830,6970,7040,7100,7160,7230,7290,7370,7450,7560,7690,7750,7810,7870,7930,7990,8050,8110,8150,8210,8280,8360,8430,8510,8570,8650,8790,8870,9070,9170,9230,9290,9350,9610,9710,9810,9850],
/*5956*/ [100,160,220,380,480,580,640,700,780,960,1080,1140,1200,1300,1440,1500,1560,1620,1700,2040,2160,2230,2300,2400,2480,2620,2700,2740,2800,2870,2940,3480,3560,3640,4140,4200,4340,4620,4740,4840,5000,5080,5160,5200,5280,5400,5460,5520,5720,5780,5840,5900,6380,6480,6540,6640,6680,6740,6810,6870,7070,7290,7370,7450,7590,7650,7710,7830,8010,8090,8230,8300,8370,8430,8470,8550,8630,8710,9090,9250,9550,9630,9710],
/*5955*/ [20,80,260,380,780,1060,1200,1280,1360,1520,1700,1800,2040,2110,2190,2260,2340,2640,2700,2800,2880,3000,3080,3180,3020,3200,3340,3460,3820,3920,4040,4140,4240,4340,4520,4590,4660,4760,5020,5080,5160,5300,5460,5600,5900,6120,6200,6280,6460,6580,6800,6870,6940,7050,7330,7410,7490,7610,8290,8350,8430,8510,8630,8710,8790,8890,9110,9270,9590,9770]
];

const lowerLevels = [5954,5953,5952,5951,5950,5949,5948,5947,5946,5945,5944,5943,5942,5941,5940,5939,5938,5937,5936,5935,5934,5933,5930,5925];
const lowerRows = [
[20,116,152,272,368,428,476,920,1268,1340,1436,1544,1724,1820,2048,2324,2432,2480,2552,2624,2696,2732,2780,2900,3332,3428,3464,3704,3764,3884,3932,4160,4208,4280,4364,4412,4448,4700,4748,4796,4856,5031,5150,5329,5508,5603,6056,6210,6258,6425,6592,6830,6878,6985,7140,7199,7425,7544,7687,7866,7937,7985,8068,8330,8437,8485,8855,8950,9000,9045,9116,9391,9569,9736],
[104,296,572,644,704,800,1172,1244,1484,1592,1676,1736,1820,2060,2336,2432,2480,2708,2912,2948,3080,3188,3248,3296,3380,3512,3620,3680,3932,4028,4184,4472,4592,4784,4936,4952,5246,5436,5531,5662,5698,5758,6175,6413,6460,6580,6735,6806,6901,7295,7521,7652,7770,7878,7961,8390,8545,8592,8855,8890,8985,9069,9236,9272,9439,9510,9664,9748],
[32,164,224,500,560,1052,1232,1268,1328,1496,1628,1760,1784,1952,2000,2060,2132,2216,2492,2588,2696,2960,3152,3224,3260,3320,3356,3440,3500,3548,3596,3740,3824,3896,4184,4256,4280,4364,4472,4520,4616,4688,4904,5234,5281,5365,5472,5520,5627,5698,5805,5889,5972,6044,6115,6175,6306,6556,6723,6794,6937,6985,7068,7235,7318,7365,7437,7532,7723,7961,8081,8140,8235,8366,8521,8616,8676,8735,8866,8937,9021,9093,9212,9391,9414,9605],
[380,560,932,1160,1268,1436,1616,1676,1952,3092,3164,3272,3368,4280,4700,4724,4892,5079,5401,5460,5603,5758,5972,6044,6127,6413,6472,6663,6770,6854,6937,7640,7747,7937,8283,8473,8581,8902,9000,9128,9188,9295,9343,9497],
[20,80,620,800,932,1520,1580,1952,2072,2120,2444,2528,2900,2960,3320,3356,3860,4388,4568,4628,4960,4976,5031,5091,5139,5555,5615,5817,6187,6341,6389,6556,6961,7127,7223,7461,7509,7556,7663,7782,7842,7890,7997,8081,8128,8199,8676,8795,8831,8974,9093,9152,9212,9343,9629,9664],
[164,212,932,1136,1388,1760,1988,2288,2348,2672,2696,2828,3080,3392,3788,3884,4052,4064,4772,5222,5270,5317,5413,5830,5960,6008,6282,6711,6925,7235,7640,8378,8426,8485,9724],
[176,764,872,1220,1712,1808,2060,2312,2408,2480,2672,3140,4004,4124,4148,4304,4544,4604,4924,4928,4964,5067,5103,5305,5377,5496,5543,5889,6449,6639,6699,7413,7532,7770,7830,8033,8271,8366,8485,8771,9000,9806],
[80,584,1076,1640,1736,2120,2456,2492,2612,2936,3056,3812,3860,4220,4796,4892,5008,5012,5270,5543,5603,5841,5901,6067,6615,6675,7818,8545,9339,9387,9435],
[596,692,1064,1100,1904,3104,3284,3560,3740,4220,4772,4984,5000,5401,5770,5948,6091,6365,6615,6854,7116,7580,7652,7675,8211,8533,8688,8866,8961,9081,9748],
[104,488,1532,1952,2468,2648,2708,2948,3020,3236,3644,3920,4376,4508,4640,4676,5103,5246,6103,6353,7354,8330,8509,8723,9081],
[140,1424,2156,2192,2228,2300,2384,2660,2744,3980,4124,4364,5281,5353,5508,6020,6413,6770,6973,7509,8045,8235,8426,8628,9033,9164,9486],
[980,1424,1544,2204,2336,3032,3380,4340,5234,5365,5746,6079,6544,7211,7973,8033,8533,8581,8902,9676],
[1712,3392,3692,4760,5662,6508,6949,7223,8890],
[500,5162,5639,7258,7473,8164,8211,8557,8795,8950,9772],
[200,728,5472,6711,6949,8771,9200,9307],
[1232,1736,1772,1808,4424,6615,8152,8295,8807,9629],
[212,368,3488,4112,7544],
[572,848,1184,2312,3848,4592,4700,6044],
[2096,3044],
[6592,6806,9736],
[5174,6067,7020],
[992,3044],
[8184],
[8889]
];

const points = [];
[[upperLevels, upperRows], [coreLevels, coreRows], [lowerLevels, lowerRows]].forEach(([levels, rows]) => {
  levels.forEach((count, i) => rows[i].forEach(s => points.push({ x: s, y: count })));
});

// drawn last so that it lies over the points, semi transparent like the original
const legendBox = {
  id: 'legendBox',
  afterDraw(chart) {
    const c = chart.ctx;
    c.save();
    c.beginPath();
    c.roundRect(772.5, 42.5, 205, 44, 3);
    c.fillStyle = 'rgba(255,255,255,0.8)';
    c.fill();
    c.strokeStyle = 'rgba(204,204,204,0.8)';
    c.lineWidth = 1;
    c.stroke();
    c.fillStyle = '#000';
    c.beginPath();
    c.arc(792, 65, 2.7, 0, Math.PI * 2);
    c.fill();
    c.textBaseline = 'alphabetic';
    c.textAlign = 'left';
    const sans = '13.9px "DejaVu Sans"';
    const ital = 'italic 13.9px "DejaVu Sans"';
    c.font = sans;
    c.fillText(seriesName, 817, 59);
    let x = 817;
    [[ital, '\u03bc'], [sans, ' = ' + mu + ', '], [ital, '\u03c3'], [sans, ' = ' + sigma]].forEach(([f, t]) => {
      c.font = f;
      c.fillText(t, x, 79);
      x += c.measureText(t).width;
    });
    c.restore();
  }
};

// top and right spines
const frame = {
  id: 'frame',
  afterDatasetsDraw(chart) {
    const a = chart.chartArea, c = chart.ctx;
    c.save();
    c.strokeStyle = '#000';
    c.lineWidth = 1;
    c.strokeRect(a.left + 0.5, a.top + 0.5, a.right - a.left, a.bottom - a.top);
    c.restore();
  }
};

const tickFont = { family: 'DejaVu Sans', size: 13.9 };

new Chart(document.getElementById('chart'), {
  type: 'scatter',
  data: {
    datasets: [{
      label: seriesName,
      data: points,
      backgroundColor: '#000',
      borderWidth: 0,
      pointRadius: 2.7,
      pointHoverRadius: 2.7
    }]
  },
  options: {
    responsive: false,
    animation: false,
    layout: { padding: { right: 15, left: 12, bottom: 14 } },
    plugins: {
      legend: { display: false },
      tooltip: { enabled: false },
      title: {
        display: true,
        text: chartTitle,
        fullSize: false,
        color: '#000',
        font: { family: 'DejaVu Sans', size: 16.67, weight: 'normal' },
        padding: { top: 12, bottom: 3 }
      }
    },
    scales: {
      x: {
        type: 'linear',
        min: -478,
        max: 10323,
        afterBuildTicks: s => { s.ticks = xTicks.map(v => ({ value: v })); },
        afterFit: s => { s.height = 44; },
        ticks: { color: '#000', font: tickFont, maxRotation: 0, padding: 4, callback: v => String(v) },
        grid: { color: '#b0b0b0', lineWidth: 1, tickColor: '#000', tickLength: 5 },
        border: { color: '#000' },
        title: { display: true, text: xLabel, color: '#000', font: tickFont, padding: { top: 2, bottom: 0 } }
      },
      y: {
        type: 'linear',
        min: 5920.33,
        max: 6023.76,
        afterBuildTicks: s => { s.ticks = yTicks.map(v => ({ value: v })); },
        afterFit: s => { s.width = 69; },
        ticks: { color: '#000', font: tickFont, padding: 4, callback: v => String(v) },
        grid: { color: '#b0b0b0', lineWidth: 1, tickColor: '#000', tickLength: 5 },
        border: { color: '#000' },
        title: { display: true, text: yLabel, color: '#000', font: tickFont, padding: { top: 0, bottom: 4 } }
      }
    }
  },
  plugins: [frame, legendBox]
});
</script>
</body>
</html>
